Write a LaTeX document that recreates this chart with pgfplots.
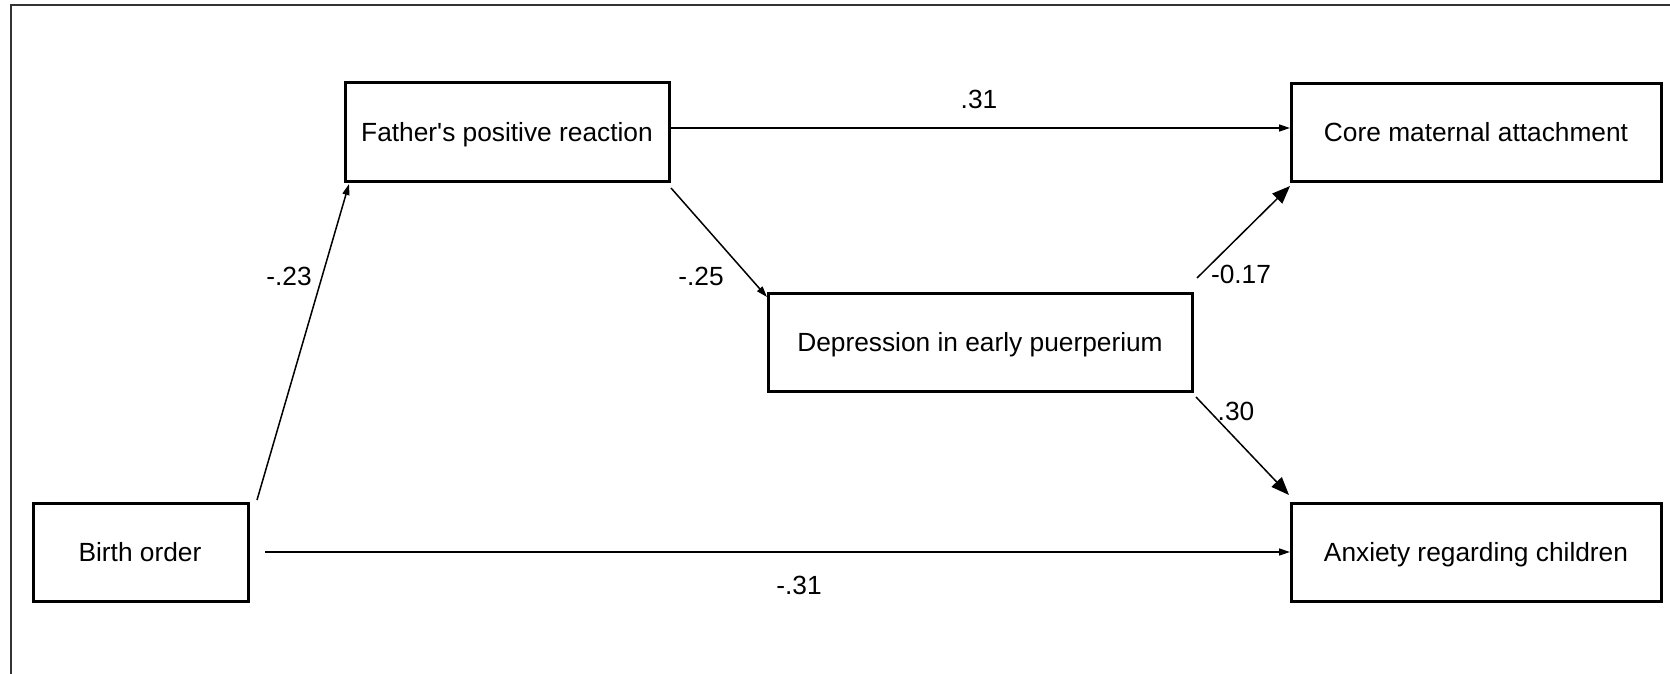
\documentclass[border=0pt]{standalone}
\usepackage{pgfplots}
\pgfplotsset{compat=1.18}
\usetikzlibrary{arrows.meta}
\usepackage{fontspec}
\setmainfont{Liberation Sans}[Ligatures=TeXOff]
\begin{document}
\fontsize{13.2}{15}\selectfont
\begin{tikzpicture}[font=\fontsize{13.2}{15}\selectfont,
 lab/.style={anchor=base, inner sep=0pt}]
\begin{axis}[name=ax,
 width=835bp, height=337bp, scale only axis,
 xmin=0, xmax=1670, ymin=0, ymax=674, y dir=reverse,
 hide axis, clip=false,
 every axis plot/.append style={no marks, line join=miter},
 box/.style={black, line width=1.5bp},
 arr/.style={black, line width=0.75bp, -{Triangle[length=5.5bp,width=3.5bp]}},
 bigarr/.style={black, line width=0.75bp, -{Triangle[length=9bp,width=7bp]}},
]
% outer frame (right and bottom edges lie outside the picture)
\addplot[black!80, line width=1bp] coordinates {(1700,5) (11,5) (11,700)};
% boxes
\addplot[box] coordinates {(345,83) (669,83) (669,181) (345,181) (345,83) (669,83)};
\addplot[box] coordinates {(33,503) (248,503) (248,601) (33,601) (33,503) (248,503)};
\addplot[box] coordinates {(768,293) (1192,293) (1192,391) (768,391) (768,293) (1192,293)};
\addplot[box] coordinates {(1291,84) (1661,84) (1661,181) (1291,181) (1291,84) (1661,84)};
\addplot[box] coordinates {(1291,503) (1661,503) (1661,601) (1291,601) (1291,503) (1661,503)};
% arrows
\addplot[arr] coordinates {(257,500) (349,184)};
\addplot[arr] coordinates {(670,128) (1290,128)};
\addplot[arr] coordinates {(265,552) (1290,552)};
\addplot[arr] coordinates {(671,188) (767,297)};
\addplot[bigarr] coordinates {(1197,278) (1290,186)};
\addplot[bigarr] coordinates {(1196,397) (1289,495)};
% box texts
\node[lab] at (axis cs:507,141.5) {Father's positive reaction};
\node[lab] at (axis cs:140,561.5) {Birth order};
\node[lab] at (axis cs:980,351.5) {Depression in early puerperium};
\node[lab] at (axis cs:1476,141.5) {Core maternal attachment};
\node[lab] at (axis cs:1476,561.5) {Anxiety regarding children};
% coefficients
\node[lab] at (axis cs:979,108.5) {.31};
\node[lab] at (axis cs:289,285) {-.23};
\node[lab] at (axis cs:701,285) {-.25};
\node[lab] at (axis cs:1241,283.5) {-0.17};
\node[lab] at (axis cs:1236,420) {.30};
\node[lab] at (axis cs:799,594) {-.31};
\end{axis}
\pgfresetboundingbox
\path (ax.south west) rectangle (ax.north east);
\end{tikzpicture}
\end{document}
